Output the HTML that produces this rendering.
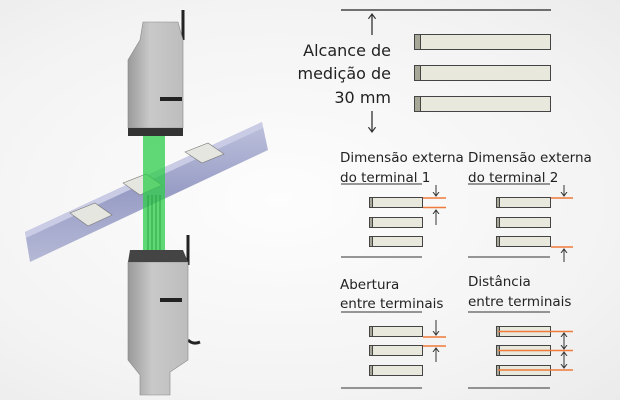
<!DOCTYPE html>
<html><head><meta charset="utf-8"><style>
html,body{margin:0;padding:0}
body{width:620px;height:400px;overflow:hidden;background:radial-gradient(ellipse at 45% 50%,#fdfdfd 0%,#f3f3f3 70%,#ebebeb 100%);font-family:"DejaVu Sans","Liberation Sans",sans-serif}
svg{position:absolute;left:0;top:0}
text{fill:#222}
</style></head><body>
<svg width="620" height="400" viewBox="0 0 620 400">
<defs>
<linearGradient id="rail" x1="0" y1="0" x2="0" y2="1"><stop offset="0" stop-color="#b7bbd9"/><stop offset="0.5" stop-color="#8e93c0"/><stop offset="1" stop-color="#aeb2d2"/></linearGradient>
<linearGradient id="body" x1="0" y1="0" x2="1" y2="0"><stop offset="0" stop-color="#9a9a9a"/><stop offset="0.4" stop-color="#c9c9c9"/><stop offset="1" stop-color="#bdbdbd"/></linearGradient>
<marker id="ah" markerWidth="8" markerHeight="8" refX="4" refY="4" orient="auto"><path d="M0,1 L4,4 L0,7" fill="none" stroke="#333" stroke-width="1"/></marker>
</defs>
<!-- rail -->
<polygon points="25,232 262,122 268,150 30,262" fill="url(#rail)" opacity="0.9"/>
<polygon points="25,232 262,122 263,128 26,238" fill="#c9cce4"/>
<!-- chips -->
<g fill="#e6e6e0" stroke="#777" stroke-width="0.6">
<polygon points="70,213 95,203 112,215 88,226"/>
<polygon points="123,183 146,174 162,185 140,195"/>
<polygon points="185,152 208,143 224,154 202,163"/>
</g>
<!-- top sensor -->
<path d="M183,10 v30" stroke="#222" stroke-width="3" fill="none"/>
<polygon points="143,22 178,22 183,40 183,128 128,128 128,60 140,40" fill="url(#body)" stroke="#888" stroke-width="0.6"/>
<rect x="128" y="128" width="55" height="8" fill="#333"/>
<rect x="160" y="97" width="22" height="4" fill="#222"/>
<!-- beam -->
<rect x="143" y="136" width="22" height="128" fill="#2ecc4a" opacity="0.75"/>
<g stroke="#1a9a32" stroke-width="0.8"><line x1="148" y1="195" x2="148" y2="262"/><line x1="152" y1="195" x2="152" y2="262"/><line x1="156" y1="195" x2="156" y2="262"/><line x1="160" y1="195" x2="160" y2="262"/></g>
<!-- bottom sensor -->
<path d="M188,235 v30 M188,340 q5,5 12,2" stroke="#222" stroke-width="3" fill="none"/>
<polygon points="128,262 188,262 188,360 170,372 170,395 140,395 140,375 128,360" fill="url(#body)" stroke="#888" stroke-width="0.6"/>
<polygon points="130,250 183,250 188,262 128,262" fill="#444"/>
<rect x="160" y="298" width="22" height="4" fill="#222"/>
<!-- top right section -->
<g stroke="#222" stroke-width="1.2" fill="none">
<line x1="341" y1="10" x2="551" y2="10"/>
<line x1="372" y1="35" x2="372" y2="14" marker-end="url(#ah)"/>
<line x1="372" y1="111" x2="372" y2="132" marker-end="url(#ah)"/>
</g>
<g stroke="#444" stroke-width="1">
<rect x="414.5" y="34.5" width="136" height="15" fill="#e8e8dc"/>
<rect x="414.5" y="65.5" width="136" height="15" fill="#e8e8dc"/>
<rect x="414.5" y="96.5" width="136" height="15" fill="#e8e8dc"/>
<rect x="414.5" y="34.5" width="6" height="15" fill="#a8a898"/>
<rect x="414.5" y="65.5" width="6" height="15" fill="#a8a898"/>
<rect x="414.5" y="96.5" width="6" height="15" fill="#a8a898"/>
</g>
<g font-size="16" text-anchor="end">
<text x="391" y="56">Alcance de</text>
<text x="391" y="79">medição de</text>
<text x="391" y="103">30 mm</text>
</g>
<!-- small panels -->
<g font-size="13.5">
<text x="340" y="162">Dimensão externa</text><text x="340" y="182">do terminal 1</text>
<text x="468" y="162">Dimensão externa</text><text x="468" y="182">do terminal 2</text>
<text x="340" y="289">Abertura</text><text x="340" y="308">entre terminais</text>
<text x="468" y="286">Distância</text><text x="468" y="306">entre terminais</text>
</g>
<g stroke="#333" stroke-width="1" fill="none">
<line x1="341" y1="184" x2="422" y2="184"/><line x1="341" y1="257" x2="422" y2="257"/>
<line x1="468" y1="184" x2="550" y2="184"/><line x1="468" y1="257" x2="550" y2="257"/>
<line x1="341" y1="312" x2="422" y2="312"/><line x1="341" y1="388" x2="422" y2="388"/>
<line x1="468" y1="312" x2="550" y2="312"/><line x1="468" y1="388" x2="550" y2="388"/>
</g>
<g stroke="#444" stroke-width="1" fill="#e8e8dc">
<rect x="369.5" y="197.5" width="53" height="10"/><rect x="369.5" y="217.5" width="53" height="10"/><rect x="369.5" y="236.5" width="53" height="10"/>
<rect x="496.5" y="197.5" width="54" height="10"/><rect x="496.5" y="217.5" width="54" height="10"/><rect x="496.5" y="236.5" width="54" height="10"/>
<rect x="369.5" y="326.5" width="53" height="10"/><rect x="369.5" y="345.5" width="53" height="10"/><rect x="369.5" y="365.5" width="53" height="10"/>
<rect x="496.5" y="326.5" width="54" height="10"/><rect x="496.5" y="345.5" width="54" height="10"/><rect x="496.5" y="365.5" width="54" height="10"/>
</g>
<g stroke="#444" stroke-width="1" fill="#a8a898">
<rect x="369.5" y="197.5" width="3" height="10"/><rect x="369.5" y="217.5" width="3" height="10"/><rect x="369.5" y="236.5" width="3" height="10"/>
<rect x="496.5" y="197.5" width="3" height="10"/><rect x="496.5" y="217.5" width="3" height="10"/><rect x="496.5" y="236.5" width="3" height="10"/>
<rect x="369.5" y="326.5" width="3" height="10"/><rect x="369.5" y="345.5" width="3" height="10"/><rect x="369.5" y="365.5" width="3" height="10"/>
<rect x="496.5" y="326.5" width="3" height="10"/><rect x="496.5" y="345.5" width="3" height="10"/><rect x="496.5" y="365.5" width="3" height="10"/>
</g>
<g stroke="#f07a3a" stroke-width="1.5">
<line x1="423" y1="198" x2="446" y2="198"/><line x1="423" y1="207.5" x2="446" y2="207.5"/>
<line x1="551" y1="198" x2="573" y2="198"/><line x1="551" y1="247" x2="573" y2="247"/>
<line x1="423" y1="337" x2="446" y2="337"/><line x1="423" y1="346" x2="446" y2="346"/>
<line x1="498" y1="331.5" x2="573" y2="331.5"/><line x1="498" y1="350.5" x2="573" y2="350.5"/><line x1="498" y1="370" x2="573" y2="370"/>
</g>
<g stroke="#333" stroke-width="1" fill="none">
<line x1="436" y1="185" x2="436" y2="196" marker-end="url(#ah)"/><line x1="436" y1="225" x2="436" y2="210" marker-end="url(#ah)"/>
<line x1="564" y1="185" x2="564" y2="196" marker-end="url(#ah)"/><line x1="564" y1="262" x2="564" y2="249" marker-end="url(#ah)"/>
<line x1="436" y1="320" x2="436" y2="335" marker-end="url(#ah)"/><line x1="436" y1="362" x2="436" y2="348" marker-end="url(#ah)"/>
<line x1="564" y1="340" x2="564" y2="333" marker-end="url(#ah)"/><line x1="564" y1="342" x2="564" y2="349" marker-end="url(#ah)"/>
<line x1="564" y1="333" x2="564" y2="349"/>
<line x1="564" y1="360" x2="564" y2="352" marker-end="url(#ah)"/><line x1="564" y1="361" x2="564" y2="368" marker-end="url(#ah)"/>
<line x1="564" y1="352" x2="564" y2="368"/>
</g>
</svg>
</body></html>
